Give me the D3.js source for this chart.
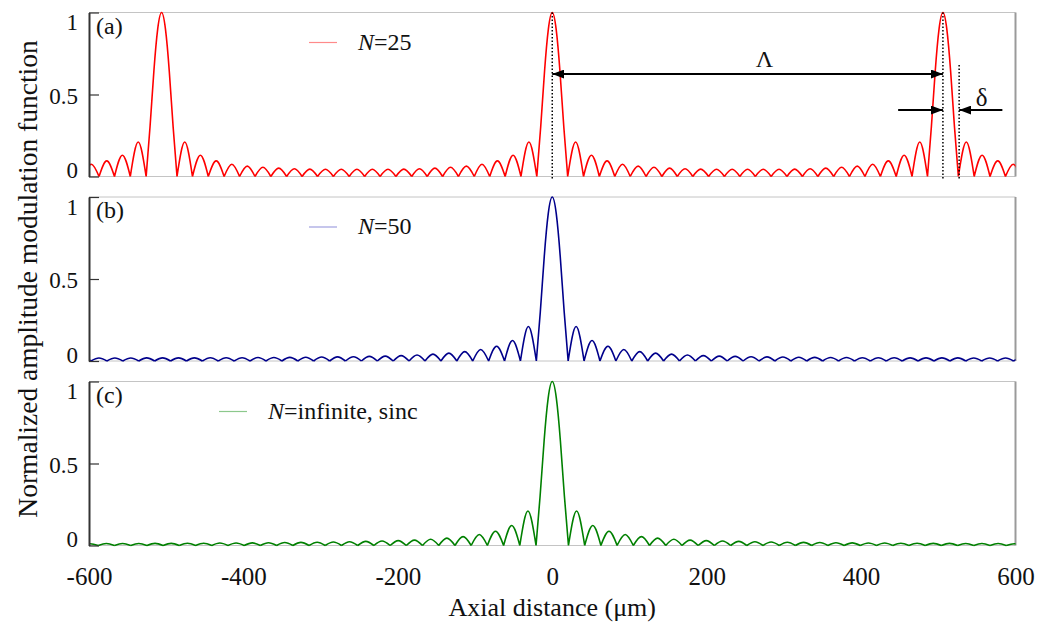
<!DOCTYPE html>
<html>
<head>
<meta charset="utf-8">
<script src="https://cdn.jsdelivr.net/npm/d3@7"></script>
<style>
  body { margin: 0; background: #fff; }
  svg, svg text { font-family: "Liberation Serif", "Times New Roman", serif; }
  svg { display: block; }
</style>
</head>
<body>
<div id="chart"></div>
<script>
// axis ticks
const xTicks = [-600, -400, -200, 0, 200, 400, 600];
const yTicks = [0, 0.5, 1];
const panelTags = ['(a)', '(b)', '(c)'];
const legendValues = ['25', '50', 'infinite, sinc'];

// positive-side zero crossings (um) and lobe heights; peaks[0] is the central lobe,
// peaks[i] is the lobe between zeros[i-1] and zeros[i]. curves are symmetric about 0.
const zerosA = [20, 40.5, 61, 81, 101, 121.5, 142, 162, 182, 202.5, 223, 243, 263, 283.5, 304,
  324, 344, 364.5, 385, 405, 425, 445.5, 466, 486, 526, 546.5, 567, 587, 607];
const peaksA = [1, 0.21, 0.13, 0.095, 0.075, 0.063, 0.056, 0.051, 0.047, 0.045, 0.044, 0.044, 0.044,
  0.044, 0.044, 0.045, 0.047, 0.051, 0.056, 0.063, 0.075, 0.095, 0.13, 0.21, 1, 0.21, 0.13, 0.095, 0.075];
const zerosB = [20.6, 41.2, 61.8, 82.4, 103, 123.6, 144.2, 164.8, 185.4, 206, 226.6, 247.2, 267.8,
  288.4, 309, 329.6, 350.2, 370.8, 391.4, 412, 432.6, 453.2, 473.8, 494.4, 515, 535.6, 556.2, 576.8,
  597.4, 618];
const peaksB = [1, 0.21, 0.125, 0.09, 0.07, 0.057, 0.048, 0.042, 0.037, 0.033, 0.03, 0.028, 0.026,
  0.025, 0.024, 0.023, 0.022, 0.021, 0.021, 0.02, 0.02, 0.02, 0.019, 0.019, 0.019, 0.019, 0.018,
  0.018, 0.018, 0.018];
const zerosC = [21, 42, 63, 84, 105, 126, 147, 168, 189, 210, 231, 252, 273, 294, 315, 336, 357,
  378, 399, 420, 441, 462, 483, 504, 525, 546, 567, 588, 609];
const peaksC = [1, 0.21, 0.122, 0.087, 0.067, 0.054, 0.045, 0.038, 0.033, 0.03, 0.027, 0.025, 0.023,
  0.021, 0.02, 0.019, 0.018, 0.017, 0.016, 0.015, 0.015, 0.014, 0.014, 0.013, 0.013, 0.012, 0.012,
  0.012, 0.011];

// main lobe profile (fraction of lobe width -> height)
const mainFrac = [0, 0.125, 0.25, 0.375, 0.5, 0.625, 0.75, 0.875, 1];
const mainShape = [0, 0.30, 0.64, 0.90, 1, 0.90, 0.64, 0.30, 0];

// annotation values in panel (a)
const lambdaEnds = [0, 506];
const deltaEnds = [506, 527];

const W = 1040, H = 624;
const left = 89, right = 1015.5, ph = 164;
const tops = [12.5, 197, 381.5];
const colors = ['#ff0000', '#00008b', '#008000'];
const legendColors = ['#ff8a8a', '#a0a0e0', '#8cc88c'];
const serif = '"Liberation Serif", "Times New Roman", serif';

const svg = d3.select('#chart').append('svg').attr('width', W).attr('height', H);

const defs = svg.append('defs');
defs.append('marker')
  .attr('id', 'arrow')
  .attr('viewBox', '0 0 12 9')
  .attr('markerUnits', 'userSpaceOnUse')
  .attr('markerWidth', 12).attr('markerHeight', 9)
  .attr('refX', 12).attr('refY', 4.5)
  .attr('orient', 'auto-start-reverse')
  .append('path').attr('d', 'M0,0L12,4.5L0,9Z').attr('fill', '#000');

const x = d3.scaleLinear().domain([-600, 600]).range([left, right]);

function buildLobes(zeros, peaks) {
  const out = [{ x0: -zeros[0], x1: zeros[0], h: peaks[0] }];
  for (let i = 1; i < peaks.length; i++) {
    out.push({ x0: zeros[i - 1], x1: zeros[i], h: peaks[i] });
    out.push({ x0: -zeros[i], x1: -zeros[i - 1], h: peaks[i] });
  }
  return out;
}

function lobePoints(l) {
  if (l.h >= 0.99) return mainFrac.map((f, i) => [l.x0 + f * (l.x1 - l.x0), mainShape[i]]);
  return [[l.x0, 0], [(l.x0 + l.x1) / 2, l.h], [l.x1, 0]];
}

const series = [[zerosA, peaksA], [zerosB, peaksB], [zerosC, peaksC]];

series.forEach(([zeros, peaks], p) => {
  const top = tops[p];
  const y = d3.scaleLinear().domain([0, 1]).range([top + ph, top]);
  const g = svg.append('g');

  defs.append('clipPath').attr('id', 'clip' + p)
    .append('rect').attr('x', left).attr('y', top - 2).attr('width', right - left).attr('height', ph + 4);

  // frame
  g.append('line').attr('x1', left).attr('x2', right).attr('y1', top).attr('y2', top)
    .attr('stroke', '#c4c4c4').attr('stroke-width', 1);
  g.append('line').attr('x1', left).attr('x2', right).attr('y1', top + ph).attr('y2', top + ph)
    .attr('stroke', '#c4c4c4').attr('stroke-width', 1);
  g.append('line').attr('x1', right).attr('x2', right).attr('y1', top).attr('y2', top + ph)
    .attr('stroke', '#9a9a9a').attr('stroke-width', 2);

  // curve
  const line = d3.line().x(d => x(d[0])).y(d => y(d[1])).curve(d3.curveNatural);
  const d = buildLobes(zeros, peaks).map(l => line(lobePoints(l))).join('');
  g.append('path').attr('d', d).attr('fill', 'none')
    .attr('stroke', colors[p]).attr('stroke-width', 1.6)
    .attr('clip-path', `url(#clip${p})`);

  // y axis
  const yAxis = g.append('g').attr('transform', `translate(${left},0)`)
    .call(d3.axisLeft(y).tickValues(yTicks).tickSizeInner(-10).tickSizeOuter(0).tickPadding(11)
      .tickFormat(d3.format('')))
    .call(a => a.select('.domain').attr('stroke', '#333').attr('stroke-width', 2))
    .call(a => a.selectAll('.tick line').attr('stroke', '#333').attr('stroke-width', 1.2));
  yAxis.selectAll('.tick text')
    .style('font-family', serif).style('font-size', '23px').attr('fill', '#111')
    .attr('dy', d => d === 1 ? '0.75em' : d === 0 ? '0.05em' : '0.38em');

  // panel tag
  g.append('text').attr('x', 96).attr('y', top + 21).attr('font-size', 24).attr('fill', '#111')
    .text(panelTags[p]);

  // legend
  const lx = p === 2 ? 219 : 309;
  g.append('line').attr('x1', lx).attr('x2', lx + 28).attr('y1', top + 30).attr('y2', top + 30)
    .attr('stroke', legendColors[p]).attr('stroke-width', 1.2);
  const lt = g.append('text').attr('x', lx + 49).attr('y', top + 37)
    .attr('font-size', 24).attr('fill', '#111');
  lt.append('tspan').attr('font-style', 'italic').text('N');
  lt.append('tspan').text('=' + legendValues[p]);

  if (p === 0) {
    const ann = g.append('g');
    const dotted = (xv, y0) => ann.append('line')
      .attr('x1', x(xv)).attr('x2', x(xv)).attr('y1', y(y0)).attr('y2', y(0) + 2)
      .attr('stroke', '#000').attr('stroke-width', 1.5).attr('stroke-dasharray', '1.5,2');
    dotted(lambdaEnds[0], 1);
    dotted(lambdaEnds[1], 1);
    dotted(deltaEnds[1], 0.68);

    ann.append('line')
      .attr('x1', x(lambdaEnds[0])).attr('x2', x(lambdaEnds[1]))
      .attr('y1', y(0.625)).attr('y2', y(0.625))
      .attr('stroke', '#000').attr('stroke-width', 2)
      .attr('marker-start', 'url(#arrow)').attr('marker-end', 'url(#arrow)');
    ann.append('text').attr('x', x(275)).attr('y', y(0.668)).attr('text-anchor', 'middle')
      .attr('font-size', 24).attr('fill', '#111').text('Λ');

    ann.append('line')
      .attr('x1', x(448)).attr('x2', x(deltaEnds[0]))
      .attr('y1', y(0.405)).attr('y2', y(0.405))
      .attr('stroke', '#000').attr('stroke-width', 2).attr('marker-end', 'url(#arrow)');
    ann.append('line')
      .attr('x1', x(583)).attr('x2', x(deltaEnds[1]))
      .attr('y1', y(0.405)).attr('y2', y(0.405))
      .attr('stroke', '#000').attr('stroke-width', 2).attr('marker-end', 'url(#arrow)');
    ann.append('text').attr('x', x(556)).attr('y', y(0.43)).attr('text-anchor', 'middle')
      .attr('font-size', 25).attr('fill', '#111').text('δ');
  }
});

// x axis under the last panel
const bottom = tops[2] + ph;
svg.append('g').attr('transform', `translate(0,${bottom})`)
  .call(d3.axisBottom(x).tickValues(xTicks).tickSize(0).tickPadding(22).tickFormat(d3.format('')))
  .call(a => a.select('.domain').remove())
  .call(a => a.selectAll('.tick text')
    .style('font-family', serif).style('font-size', '25px').attr('fill', '#111')
    .text(d => d < 0 ? '-' + Math.abs(d) : d));

svg.append('text').attr('x', (left + right) / 2).attr('y', 616).attr('text-anchor', 'middle')
  .attr('font-size', 26).attr('fill', '#111').text('Axial distance (μm)');

svg.append('text').attr('transform', `translate(37,${(tops[0] + bottom) / 2}) rotate(-90)`)
  .attr('text-anchor', 'middle').attr('font-size', 27.5).attr('fill', '#111')
  .text('Normalized amplitude modulation function');
</script>
</body>
</html>
